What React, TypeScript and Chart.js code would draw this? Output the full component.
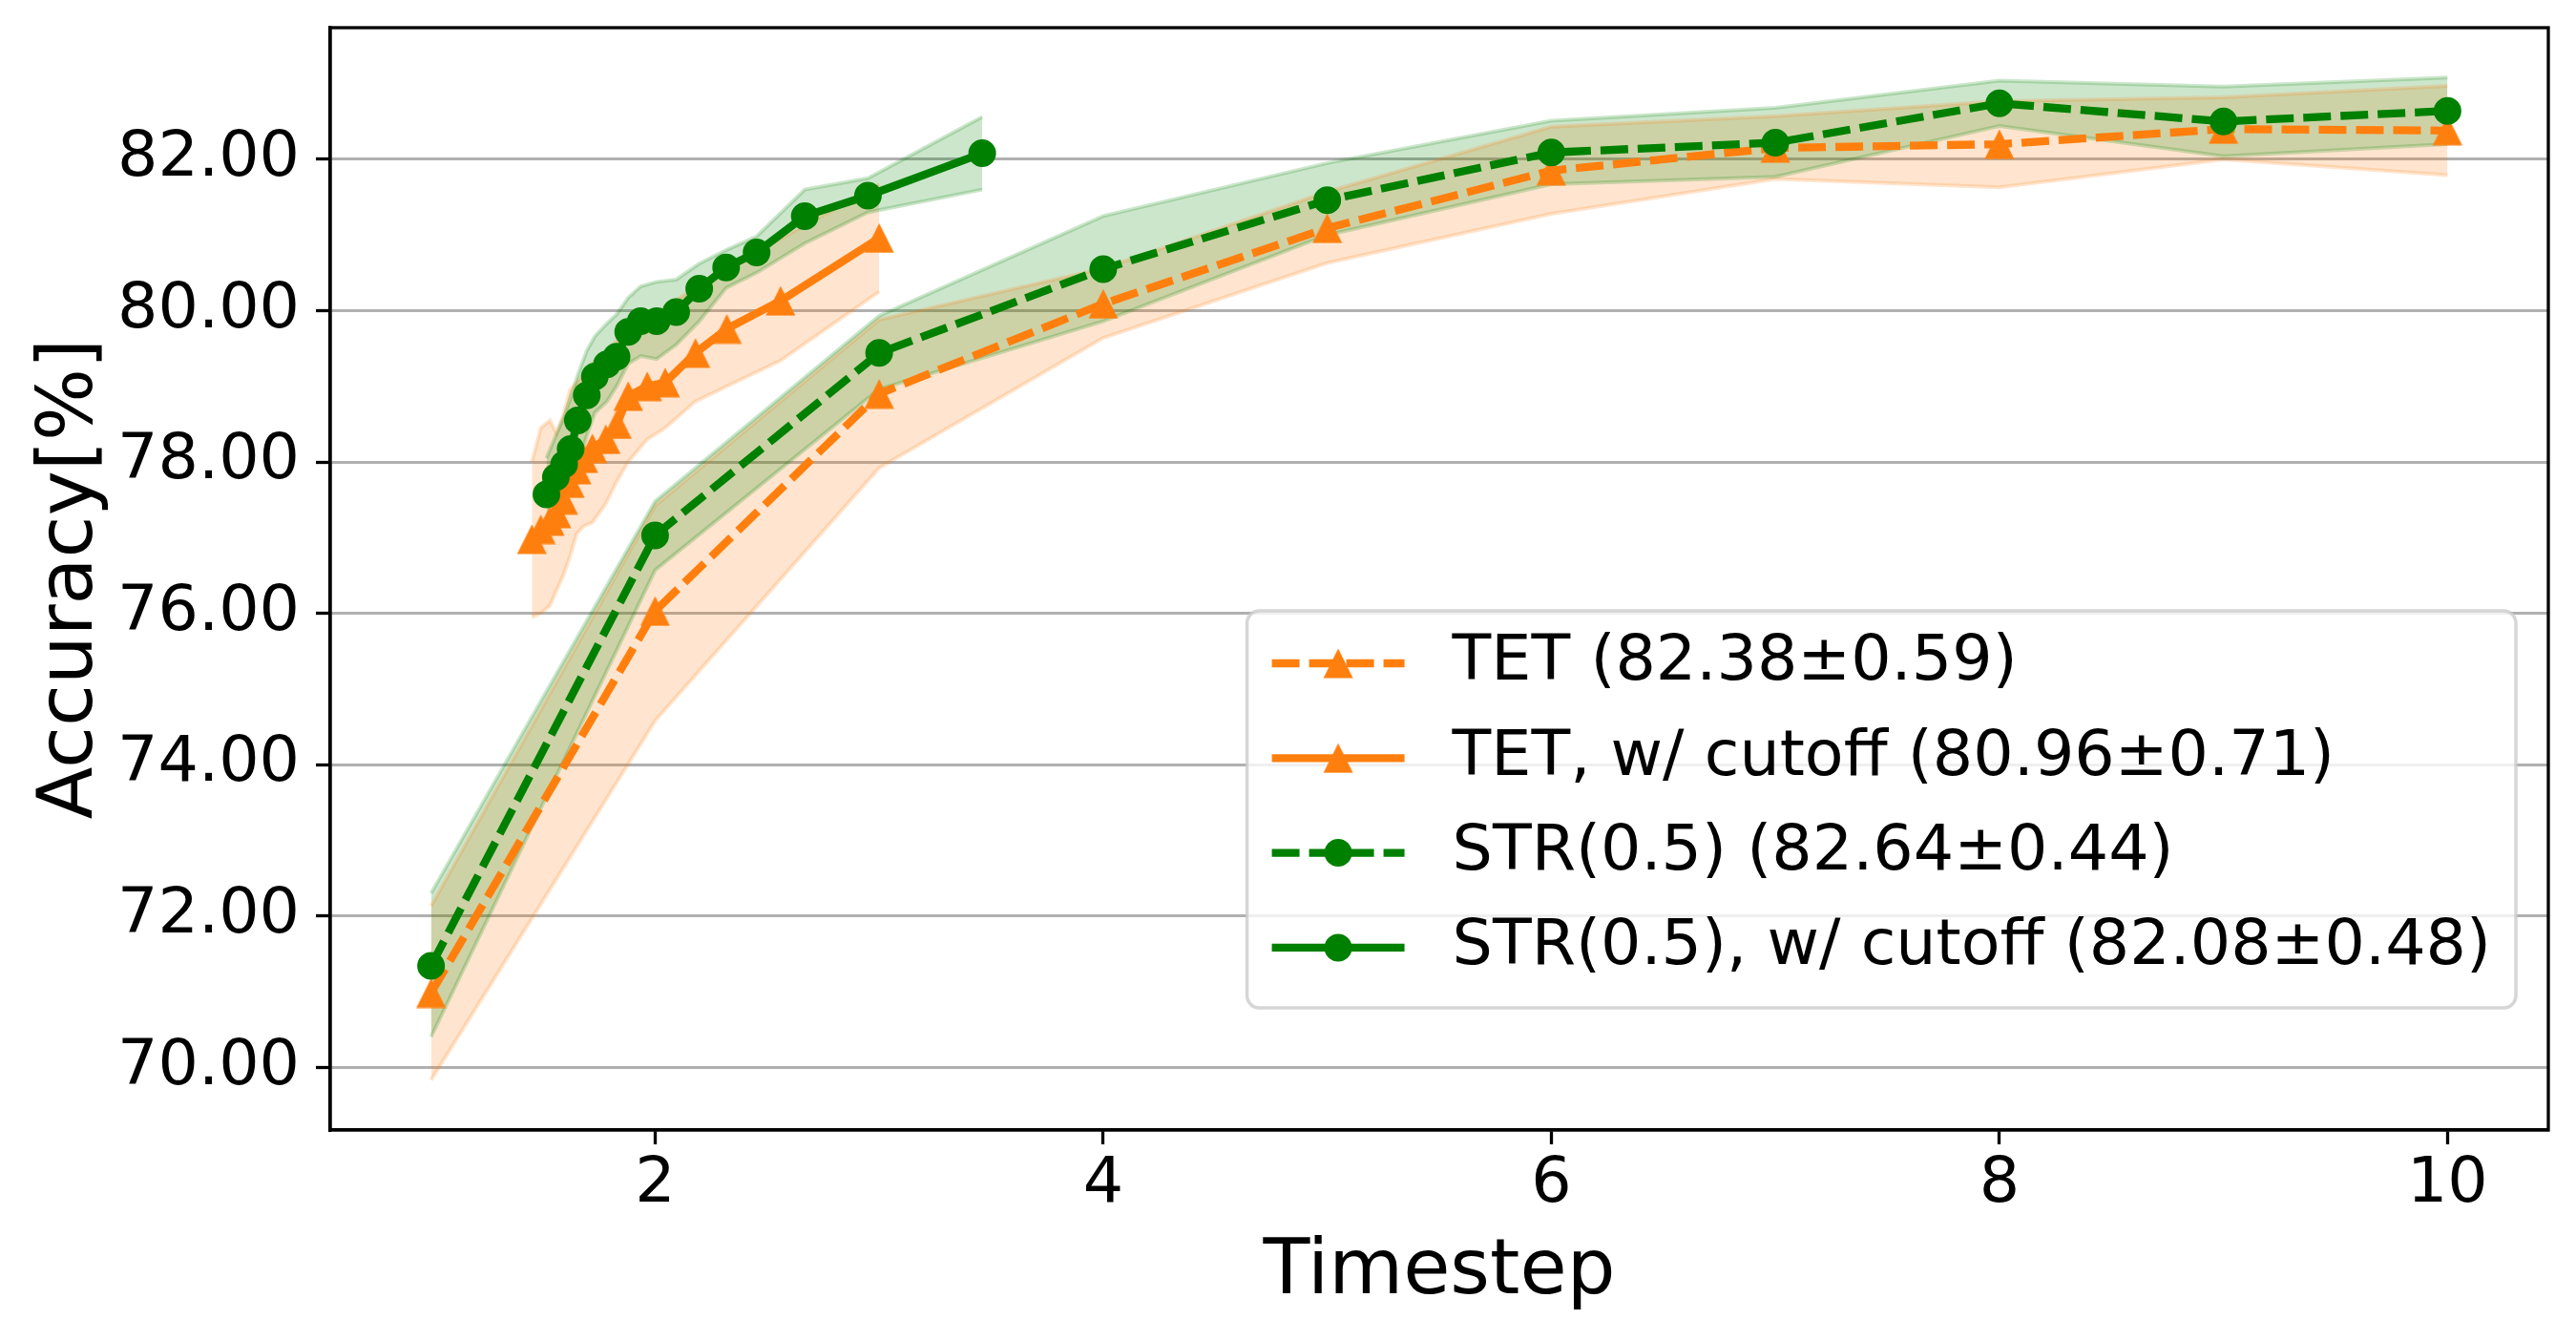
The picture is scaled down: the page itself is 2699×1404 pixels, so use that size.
import { Chart, registerables } from 'chart.js';
import { useEffect, useRef } from 'react';

Chart.register(...registerables);

const FONT = 'DejaVu Sans';
const ORANGE = '#ff7f0e';
const GREEN = '#008000';
const ORANGE_BAND = 'rgba(255,127,14,0.2)';
const GREEN_BAND = 'rgba(0,128,0,0.2)';

// full training, T = 1..10
const timesteps = [1, 2, 3, 4, 5, 6, 7, 8, 9, 10];
const tetMean = [70.98, 76.03, 78.9, 80.09, 81.09, 81.85, 82.15, 82.2, 82.4, 82.38];
const tetLower = [69.83, 74.58, 77.92, 79.64, 80.63, 81.28, 81.74, 81.63, 82.0, 81.79];
const tetUpper = [72.13, 77.42, 79.88, 80.56, 81.57, 82.43, 82.57, 82.77, 82.82, 82.97];
const strMean = [71.34, 77.03, 79.44, 80.55, 81.46, 82.09, 82.22, 82.74, 82.5, 82.64];
const strLower = [70.4, 76.57, 78.96, 79.86, 81.0, 81.67, 81.77, 82.44, 82.04, 82.2];
const strUpper = [72.3, 77.48, 79.93, 81.25, 81.95, 82.51, 82.68, 83.04, 82.96, 83.08];

// with cutoff (average timestep)
const tetCutT = [1.45, 1.49, 1.53, 1.56, 1.59, 1.62, 1.65, 1.68, 1.72, 1.78, 1.83, 1.88, 1.965, 2.045, 2.18, 2.32, 2.56, 3.0];
const tetCutMean = [76.98, 77.11, 77.22, 77.32, 77.5, 77.72, 77.9, 78.05, 78.18, 78.3, 78.5, 78.87, 79.0, 79.05, 79.44, 79.76, 80.13, 80.96];
const tetCutLower = [75.95, 76.0, 76.1, 76.3, 76.5, 76.75, 77.05, 77.15, 77.2, 77.45, 77.75, 78.0, 78.3, 78.45, 78.8, 79.0, 79.34, 80.25];
const tetCutUpper = [78.0, 78.45, 78.55, 78.38, 78.62, 78.95, 79.05, 79.15, 79.3, 79.45, 79.6, 79.75, 79.9, 80.05, 80.3, 80.6, 80.95, 81.67];
const strCutT = [1.515, 1.557, 1.594, 1.623, 1.655, 1.695, 1.731, 1.785, 1.828, 1.88, 1.936, 2.007, 2.094, 2.197, 2.317, 2.453, 2.668, 2.95, 3.46];
const strCutMean = [77.57, 77.8, 77.97, 78.17, 78.55, 78.88, 79.13, 79.29, 79.39, 79.72, 79.86, 79.86, 79.98, 80.29, 80.57, 80.77, 81.25, 81.52, 82.08];
const strCutLower = [77.1, 77.3, 77.45, 77.6, 77.95, 78.35, 78.65, 78.8, 79.0, 79.3, 79.4, 79.36, 79.55, 79.86, 80.3, 80.5, 80.89, 81.3, 81.6];
const strCutUpper = [78.05, 78.35, 78.6, 78.85, 79.15, 79.47, 79.66, 79.83, 79.95, 80.17, 80.32, 80.38, 80.41, 80.62, 80.8, 80.98, 81.6, 81.75, 82.56];

const yTicks = [70, 72, 74, 76, 78, 80, 82];
const xTicks = [2, 4, 6, 8, 10];

const labels = [
  'TET (82.38±0.59)',
  'TET, w/ cutoff (80.96±0.71)',
  'STR(0.5) (82.64±0.44)',
  'STR(0.5), w/ cutoff (82.08±0.48)',
];

const DASH = [29, 10];
const TICK_FS = 66.7;
const TITLE_FS = 80;

const pts = (xs: number[], ys: number[]) => xs.map((x, i) => ({ x, y: ys[i] }));

function makeTriangle(color: string, size: number) {
  const c = document.createElement('canvas');
  c.width = size;
  c.height = size;
  const g = c.getContext('2d')!;
  g.fillStyle = color;
  g.beginPath();
  g.moveTo(size / 2, 0.5);
  g.lineTo(size - 0.5, size - 0.5);
  g.lineTo(0.5, size - 0.5);
  g.closePath();
  g.fill();
  return c;
}

const framePlugin = {
  id: 'frame',
  afterDatasetsDraw(chart: any) {
    const { ctx, chartArea: a } = chart;
    ctx.save();
    ctx.strokeStyle = '#000';
    ctx.lineWidth = 3.3;
    ctx.strokeRect(a.left, a.top, a.right - a.left, a.bottom - a.top);
    ctx.restore();
  },
};

const legendPlugin = {
  id: 'boxLegend',
  afterDraw(chart: any) {
    const { ctx, chartArea: a } = chart;
    const fs = TICK_FS;
    ctx.save();
    ctx.font = `${fs}px "${FONT}"`;
    const textW = Math.max(...labels.map((l) => ctx.measureText(l).width));
    const pad = 26;
    const handleLen = 139;
    const textGap = 50;
    const w = pad + handleLen + textGap + textW + pad;
    const h = 416;
    const right = a.right - 34;
    const bottom = a.bottom - 128;
    const left = right - w;
    const top = bottom - h;

    ctx.beginPath();
    ctx.roundRect(left, top, w, h, 13);
    ctx.fillStyle = 'rgba(255,255,255,0.8)';
    ctx.fill();
    ctx.strokeStyle = 'rgba(204,204,204,0.8)';
    ctx.lineWidth = 3.5;
    ctx.stroke();

    const styles = [
      { color: ORANGE, dash: DASH, tri: true },
      { color: ORANGE, dash: [], tri: true },
      { color: GREEN, dash: DASH, tri: false },
      { color: GREEN, dash: [], tri: false },
    ];
    const tri = makeTriangle(ORANGE, 32);
    labels.forEach((label, i) => {
      const cy = top + 55 + i * 99.3;
      const hx = left + pad;
      const s = styles[i];
      ctx.strokeStyle = s.color;
      ctx.lineWidth = 8.3;
      ctx.setLineDash(s.dash);
      ctx.beginPath();
      ctx.moveTo(hx, cy);
      ctx.lineTo(hx + handleLen, cy);
      ctx.stroke();
      ctx.setLineDash([]);
      const mx = hx + handleLen / 2;
      if (s.tri) {
        ctx.drawImage(tri, mx - 16, cy - 16);
      } else {
        ctx.fillStyle = s.color;
        ctx.beginPath();
        ctx.arc(mx, cy, 14.5, 0, Math.PI * 2);
        ctx.fill();
      }
      ctx.fillStyle = '#000';
      ctx.textAlign = 'left';
      ctx.textBaseline = 'middle';
      ctx.fillText(label, hx + handleLen + textGap, cy);
    });
    ctx.restore();
  },
};

export default function App() {
  const chartRef = useRef<HTMLCanvasElement | null>(null);

  useEffect(() => {
    document.body.style.margin = '0';
    const canvas = chartRef.current;
    if (!canvas) return;
    const ctx = canvas.getContext('2d');
    if (!ctx) return;

    const triangle = makeTriangle(ORANGE, 32);
    const line = (data: any[], color: string, dashed: boolean, tri: boolean) => ({
      data,
      borderColor: color,
      backgroundColor: color,
      borderWidth: 8.3,
      borderDash: dashed ? DASH : [],
      borderJoinStyle: 'round' as const,
      borderCapStyle: 'butt' as const,
      pointStyle: tri ? (triangle as any) : 'circle',
      pointRadius: tri ? 16 : 13,
      pointBorderWidth: tri ? 0 : 3,
      pointBorderColor: color,
      pointBackgroundColor: color,
      tension: 0,
      fill: false,
    });
    const bandEdge = (data: any[], color: string, fill: any) => ({
      data,
      borderColor: color,
      backgroundColor: color,
      borderWidth: 4,
      pointRadius: 0,
      tension: 0,
      fill,
    });

    const chartInstance = new Chart(ctx, {
      type: 'line',
      data: {
        datasets: [
          line(pts(strCutT, strCutMean), GREEN, false, false),
          line(pts(timesteps, strMean), GREEN, true, false),
          line(pts(tetCutT, tetCutMean), ORANGE, false, true),
          line(pts(timesteps, tetMean), ORANGE, true, true),
          bandEdge(pts(strCutT, strCutUpper), GREEN_BAND, false),
          bandEdge(pts(strCutT, strCutLower), GREEN_BAND, '-1'),
          bandEdge(pts(timesteps, strUpper), GREEN_BAND, false),
          bandEdge(pts(timesteps, strLower), GREEN_BAND, '-1'),
          bandEdge(pts(tetCutT, tetCutUpper), ORANGE_BAND, false),
          bandEdge(pts(tetCutT, tetCutLower), ORANGE_BAND, '-1'),
          bandEdge(pts(timesteps, tetUpper), ORANGE_BAND, false),
          bandEdge(pts(timesteps, tetLower), ORANGE_BAND, '-1'),
        ] as any,
      },
      options: {
        responsive: false,
        animation: false,
        events: [],
        layout: { padding: { left: 0, right: 29, top: 29, bottom: 0 } },
        scales: {
          x: {
            type: 'linear',
            min: 0.55,
            max: 10.45,
            afterBuildTicks: (axis: any) => {
              axis.ticks = xTicks.map((v) => ({ value: v }));
            },
            afterFit: (axis: any) => {
              axis.height = 220;
              axis.paddingLeft = 0;
              axis.paddingRight = 0;
            },
            grid: {
              drawOnChartArea: false,
              drawTicks: true,
              tickLength: 15,
              tickWidth: 3.3,
              tickColor: '#000',
            },
            border: { display: true, color: '#000', width: 3.3 },
            ticks: {
              color: '#000',
              padding: 3,
              font: { family: FONT, size: TICK_FS },
              callback: (v: any) => String(v),
            },
            title: {
              display: true,
              text: 'Timestep',
              color: '#000',
              font: { family: FONT, size: TITLE_FS },
              padding: { top: 0, bottom: 22 },
            },
          },
          y: {
            type: 'linear',
            min: 69.17,
            max: 83.74,
            afterBuildTicks: (axis: any) => {
              axis.ticks = yTicks.map((v) => ({ value: v }));
            },
            afterFit: (axis: any) => {
              axis.width = 346;
              axis.paddingTop = 0;
              axis.paddingBottom = 0;
            },
            grid: {
              color: '#b0b0b0',
              lineWidth: 3,
              drawTicks: true,
              tickLength: 15,
              tickWidth: 3.3,
              tickColor: '#000',
            },
            border: { display: true, color: '#000', width: 3.3 },
            ticks: {
              color: '#000',
              padding: 17,
              font: { family: FONT, size: TICK_FS },
              callback: (v: any) => Number(v).toFixed(2),
            },
            title: {
              display: true,
              text: 'Accuracy[%]',
              color: '#000',
              font: { family: FONT, size: TITLE_FS },
              padding: { top: 27, bottom: 0 },
            },
          },
        },
        plugins: {
          legend: { display: false },
          tooltip: { enabled: false },
          filler: { drawTime: 'beforeDatasetsDraw', propagate: false },
        } as any,
      },
      plugins: [framePlugin, legendPlugin],
    });

    return () => {
      chartInstance.destroy();
    };
  }, []);

  return (
    <div style={{ width: 2699, height: 1404 }}>
      <canvas ref={chartRef} width={2699} height={1404}></canvas>
    </div>
  );
}
